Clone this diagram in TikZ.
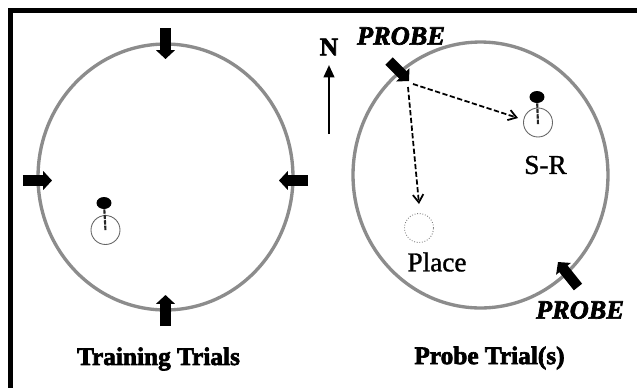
\documentclass[tikz,border=0pt]{standalone}
\usepackage{fontspec}
\setmainfont{Liberation Serif}[BoldFeatures={FakeBold=2.6},BoldItalicFeatures={FakeBold=2.6}]
\newfontfamily\medfont{Liberation Serif}[FakeBold=1.2]
\usetikzlibrary{arrows.meta,shapes.geometric}
\tikzset{
 x=0.02cm,y=-0.02cm,
 arena/.style={draw=black!45,line width=1.9pt,ellipse,minimum width=5.1cm,minimum height=5.32cm,inner sep=0pt},
 platform/.style={draw=black!60,line width=0.5pt,circle,minimum size=0.58cm,inner sep=0pt},
 ghost/.style={platform,densely dotted,draw=black!50},
 head/.style={fill=black,ellipse,minimum width=0.3cm,minimum height=0.24cm,inner sep=0pt},
 body/.style={draw=black!85,line width=1.2pt,dash pattern=on 2.5pt off 0.6pt},
 start/.style={line width=6pt,-{Triangle[length=5pt,width=10.5pt]}},
 route/.style={line width=1pt,dash pattern=on 3pt off 1.4pt,-{Straight Barb[length=4.5pt,width=6pt]}},
 lab/.style={font=\bfseries\fontsize{14.4pt}{15pt}\selectfont,inner sep=0pt},
 plab/.style={font=\bfseries\itshape\fontsize{15pt}{16pt}\selectfont,inner sep=0pt},
 sublab/.style={font=\medfont\fontsize{15.5pt}{16pt}\selectfont,inner sep=0pt},
}
\begin{document}
\begin{tikzpicture}
\useasboundingbox (0,0) rectangle (637,387);
\fill[white] (0,0) rectangle (637,387);
\draw[line width=2.8pt] (10.7,420) -- (10.7,10.7) -- (660,10.7);
\node[arena] (ringA) at (165.5,177) {};
\node[arena] (ringB) at (480.5,175) {};
% training starts
\coordinate (nA) at (165.5,28); \coordinate (nB) at (165.5,59);
\coordinate (sA) at (165.5,326); \coordinate (sB) at (165.5,295);
\coordinate (wA) at (23,180.5); \coordinate (wB) at (52,180.5);
\coordinate (eA) at (308,180.5); \coordinate (eB) at (279,180.5);
\draw[start] (nA) -- (nB);
\draw[start] (sA) -- (sB);
\draw[start] (wA) -- (wB);
\draw[start] (eA) -- (eB);
% training platform
\node[platform] (platA) at (105.5,230) {};
\node[head] (headA) at (104,203) {};
\draw[body] (headA) -- (105.5,231);
% probe
\coordinate (p1A) at (389,61); \coordinate (p1B) at (409,81);
\coordinate (p2A) at (578,287); \coordinate (p2B) at (558,262);
\draw[start] (p1A) -- (p1B);
\draw[start] (p2A) -- (p2B);
\node[platform] (platB) at (538,122.5) {};
\node[ghost] (platC) at (419,228) {};
\node[head] (headB) at (537,97) {};
\draw[body] (headB) -- (538,125);
\coordinate (r0) at (413,84);
\coordinate (r1) at (518,118);
\coordinate (r3) at (408,87);
\coordinate (r2) at (419,204);
\draw[route] (r0) -- (r1);
\draw[route] (r3) -- (r2);
% north
\node[font=\bfseries\fontsize{14.5pt}{15pt}\selectfont,inner sep=0pt] (north) at (329,47) {N};
\coordinate (nbase) at (329,134); \coordinate (ntip) at (329,65);
\draw[line width=1.3pt,-{Triangle[length=7pt,width=6pt]}] (nbase) -- (ntip);
% labels
\node[plab] (pr1) at (401,36) {PROBE};
\node[plab] (pr2) at (580,310) {PROBE};
\node[sublab] (sr) at (545.5,165) {S-R};
\node[sublab] (pl) at (437,262) {Place};
\node[lab] (tt) at (158.5,359) {Training Trials};
\node[lab] (pt) at (489.5,358) {Probe Trial(s)};
\end{tikzpicture}
\end{document}
